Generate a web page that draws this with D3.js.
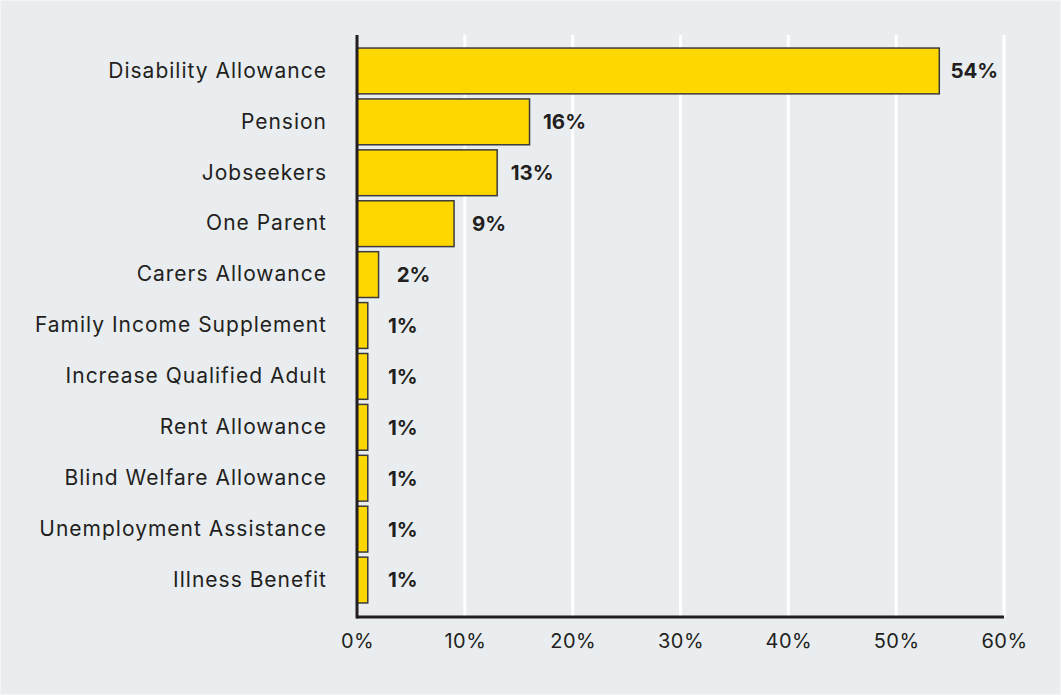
<!DOCTYPE html>
<html>
<head>
<meta charset="utf-8">
<script src="https://cdn.jsdelivr.net/npm/d3@7"></script>
<style>
  html, body { margin: 0; padding: 0; background: #e9edf0; }
  svg { display: block; }
  text { font-family: "Inter", "Noto Sans", sans-serif; fill: #231f20; }
</style>
</head>
<body>
<svg id="chart" width="1061" height="695"></svg>
<script>
const categories = [
  "Disability Allowance",
  "Pension",
  "Jobseekers",
  "One Parent",
  "Carers Allowance",
  "Family Income Supplement",
  "Increase Qualified Adult",
  "Rent Allowance",
  "Blind Welfare Allowance",
  "Unemployment Assistance",
  "Illness Benefit"
];
const values = [54, 16, 13, 9, 2, 1, 1, 1, 1, 1, 1];
const xTicks = [0, 10, 20, 30, 40, 50, 60];

const svg = d3.select("#chart");
const W = 1061, H = 695;

svg.append("rect")
  .attr("x", 0.5).attr("y", 0.5)
  .attr("width", W - 1).attr("height", H - 1)
  .attr("fill", "#e9edf0")
  .attr("stroke", "#f3f5f7").attr("stroke-width", 1);

const plotLeft = 357, plotRight = 1004, plotTop = 35, plotBottom = 617;

const x = d3.scaleLinear().domain([0, 60]).range([plotLeft, plotRight]);
const y = d3.scaleBand()
  .domain(categories)
  .range([45.5, 605.5])
  .paddingInner(0.1)
  .paddingOuter(0.05);

// vertical gridlines
svg.append("g")
  .selectAll("line")
  .data(xTicks.filter(d => d > 0))
  .join("line")
  .attr("x1", d => x(d)).attr("x2", d => x(d))
  .attr("y1", plotTop).attr("y2", plotBottom)
  .attr("stroke", "#ffffff").attr("stroke-width", 3);

// bars
svg.append("g")
  .selectAll("rect")
  .data(values)
  .join("rect")
  .attr("x", x(0))
  .attr("y", (d, i) => y(categories[i]))
  .attr("width", d => x(d) - x(0))
  .attr("height", y.bandwidth())
  .attr("fill", "#ffd700")
  .attr("stroke", "#3b3b3b")
  .attr("stroke-width", 1.5);

// value labels, centred a little past the end of each bar
svg.append("g")
  .selectAll("text")
  .data(values)
  .join("text")
  .attr("x", d => x(d) + 35)
  .attr("y", (d, i) => y(categories[i]) + y.bandwidth() / 2)
  .attr("dy", "0.36em")
  .attr("text-anchor", "middle")
  .attr("font-size", 20.5)
  .attr("font-weight", 700)
  .text(d => d + "%");

// category axis
const yAxis = d3.axisLeft(y).tickSize(0).tickPadding(30);
const gy = svg.append("g")
  .attr("transform", `translate(${plotLeft},0)`)
  .call(yAxis);
gy.select(".domain").remove();
gy.selectAll("text")
  .attr("font-size", 21)
  .attr("font-weight", 400)
  .attr("letter-spacing", 1)
  .style("font-family", "Inter, 'Noto Sans', sans-serif")
  .attr("fill", "#231f20");

// value axis
const xAxis = d3.axisBottom(x).tickValues(xTicks).tickSize(0).tickPadding(17)
  .tickFormat(d => d + "%");
const gx = svg.append("g")
  .attr("transform", `translate(0,${plotBottom})`)
  .call(xAxis);
gx.select(".domain").remove();
gx.selectAll("text")
  .attr("font-size", 20)
  .attr("letter-spacing", 0.5)
  .style("font-family", "Inter, 'Noto Sans', sans-serif")
  .attr("fill", "#231f20");

// axis lines
svg.append("line")
  .attr("x1", plotLeft).attr("x2", plotRight)
  .attr("y1", plotBottom).attr("y2", plotBottom)
  .attr("stroke", "#231f20").attr("stroke-width", 3);
svg.append("line")
  .attr("x1", plotLeft).attr("x2", plotLeft)
  .attr("y1", plotTop).attr("y2", plotBottom + 1.5)
  .attr("stroke", "#231f20").attr("stroke-width", 3);
</script>
</body>
</html>
